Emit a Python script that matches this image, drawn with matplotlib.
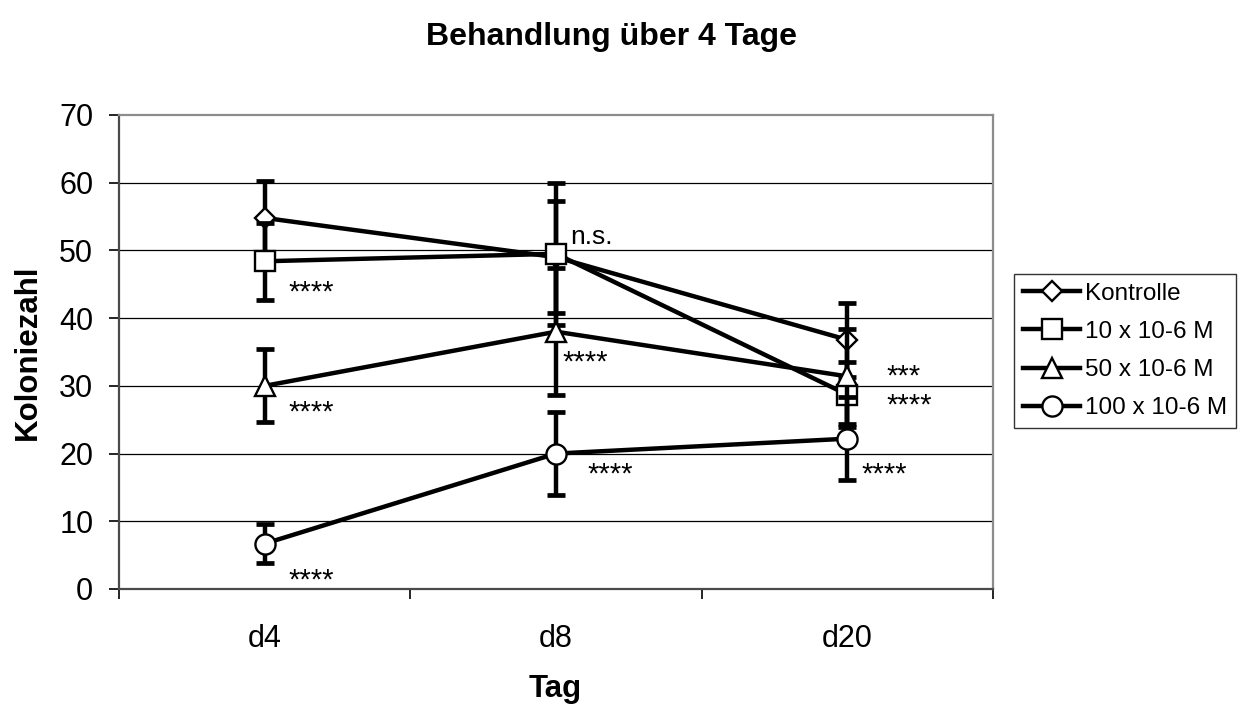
import matplotlib
matplotlib.use("Agg")
import matplotlib.pyplot as plt

plt.rcParams['font.family'] = ['Liberation Sans', 'DejaVu Sans']

# Data
days = ["d4", "d8", "d20"]
series_labels = ["Kontrolle", "10 x 10-6 M", "50 x 10-6 M", "100 x 10-6 M"]
kontrolle = [54.8, 49.0, 36.8]
kontrolle_err = [5.5, 8.3, 5.5]
conc_10 = [48.4, 49.5, 28.7]
conc_10_err = [5.7, 10.5, 4.8]
conc_50 = [30.0, 38.0, 31.4]
conc_50_err = [5.4, 9.4, 7.0]
conc_100 = [6.7, 20.0, 22.2]
conc_100_err = [2.9, 6.1, 6.1]

# Significance marks: (category position offset, y value, text)
sig_x = [0.08, 0.08, 0.08, 1.048, 1.021, 1.107, 2.133, 2.133, 2.047]
sig_y = [43.8, 26.1, 1.3, 52.0, 33.5, 16.9, 31.3, 27.1, 16.9]
sig_text = ["****", "****", "****", "n.s.", "****", "****", "***", "****", "****"]

markers = ["D", "s", "^", "o"]
marker_sizes = [10.5, 15, 14, 14.5]
values = [kontrolle, conc_10, conc_50, conc_100]
errors = [kontrolle_err, conc_10_err, conc_50_err, conc_100_err]

fig = plt.figure(figsize=(12.42, 7.04), dpi=100)
ax = fig.add_axes([119 / 1242, 1 - 589 / 704, (993 - 119) / 1242, (589 - 115) / 704])

x = list(range(len(days)))
handles = []
for i, (vals, errs) in enumerate(zip(values, errors)):
    ax.errorbar(x, vals, yerr=errs, fmt='none', ecolor='black', elinewidth=3.2,
                capsize=6.5, capthick=3.4, zorder=3 + i * 2)
    line, = ax.plot(x, vals, color='black', lw=3.2, marker=markers[i],
                    markersize=marker_sizes[i], markerfacecolor='white',
                    markeredgecolor='black', markeredgewidth=1.7,
                    zorder=4 + i * 2, label=series_labels[i])
    handles.append(line)

for sx, sy, st in zip(sig_x, sig_y, sig_text):
    ax.text(sx, sy, st, fontsize=21 if st != "n.s." else 19,
            ha='left', va='center', color='black', zorder=20)

ax.set_xlim(-0.5, 2.5)
ax.set_ylim(0, 70)
ax.set_yticks(range(0, 71, 10))
ax.tick_params(axis='y', labelsize=22, length=7, width=1.2, pad=11.5, direction='out')
ax.set_xticks(x)
ax.set_xticklabels(days)
ax.tick_params(axis='x', which='major', length=0, labelsize=22, pad=25)
ax.set_xticks([-0.5, 0.5, 1.5, 2.5], minor=True)
ax.tick_params(axis='x', which='minor', length=7, width=1.2, direction='out')

for yv in range(10, 70, 10):
    ax.axhline(yv, color='black', lw=0.9, zorder=1)

ax.spines['left'].set_color('#4a4a4a')
ax.spines['bottom'].set_color('#4a4a4a')
ax.spines['left'].set_linewidth(1.6)
ax.spines['bottom'].set_linewidth(1.6)
ax.spines['top'].set_color('#8c8c8c')
ax.spines['right'].set_color('#8c8c8c')
ax.spines['top'].set_linewidth(1.6)
ax.spines['right'].set_linewidth(1.6)

ax.set_ylabel("Koloniezahl", fontsize=22.5, fontweight='bold', labelpad=12)
fig.text(555 / 1242, 1 - 689 / 704, "Tag", fontsize=22.5, fontweight='bold',
         ha='center', va='center')
fig.text(611 / 1242, 1 - 37 / 704, "Behandlung über 4 Tage", fontsize=23,
         fontweight='bold', ha='center', va='center')

leg = fig.legend(handles=handles, loc='center', bbox_to_anchor=(1125 / 1242, 1 - 351 / 704),
                 fontsize=17.5, handlelength=2.35, handletextpad=0.2, labelspacing=0.66,
                 borderpad=0.35, frameon=True, fancybox=False, borderaxespad=0)
leg.get_frame().set_edgecolor('black')
leg.get_frame().set_linewidth(1.0)

fig.savefig("out.png", dpi=100)
